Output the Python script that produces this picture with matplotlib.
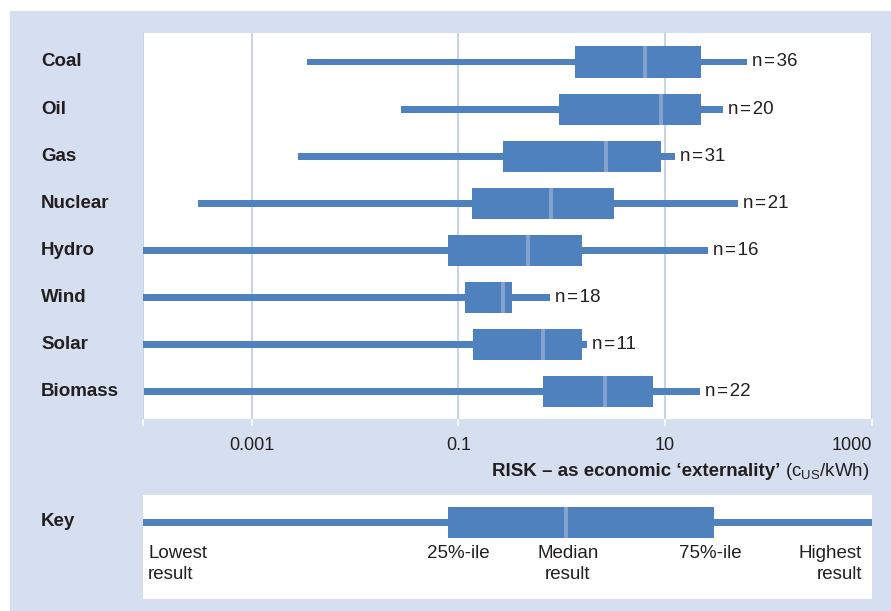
import numpy as np
import matplotlib.pyplot as plt
from matplotlib.patches import Rectangle
from matplotlib.ticker import NullLocator
from matplotlib.transforms import blended_transform_factory

plt.rcParams['font.family'] = ['Liberation Sans', 'DejaVu Sans']

# data (cUS/kWh, log scale)
sources = ['Coal', 'Oil', 'Gas', 'Nuclear', 'Hydro', 'Wind', 'Solar', 'Biomass']
lowest = [0.00343, 0.0279, 0.00281, 0.000302, 8e-5, 8e-5, 8e-5, 9.1e-5]
q1 = [1.35, 0.942, 0.270, 0.1355, 0.0794, 0.116, 0.139, 0.659]
median = [6.33, 9.14, 2.70, 0.789, 0.472, 0.270, 0.659, 2.62]
q3 = [22.1, 22.1, 9.14, 3.21, 1.57, 0.328, 1.57, 7.65]
highest = [61.7, 36.2, 12.5, 50.5, 26.1, 0.766, 1.77, 21.8]
counts = [36, 20, 31, 21, 16, 18, 11, 22]

tick_vals = [1e-3, 1e-1, 10, 1000]
tick_labels = ['0.001', '0.1', '10', '1000']

# key: lowest, 25%, median, 75%, highest
key_vals = [1e-5, 0.0794, 1.10, 29.8, 1e4]
key_texts = ['Lowest\nresult', '25%-ile', 'Median\nresult', '75%-ile', 'Highest\nresult']

panel = '#d5dfef'
blue = '#4e81bd'
med_col = '#83a2cf'
grid_col = '#b6c6e0'
txt = '#231f20'
FS = 13.5

XMIN, XMAX = 10 ** -4.055, 1000
W, H = 891, 611

fig = plt.figure(figsize=(W / 100, H / 100), dpi=100)
fig.patches.append(Rectangle((10 / W, 0), 1, 600 / H, transform=fig.transFigure,
                             color=panel, zorder=-10))

# main chart
ax = fig.add_axes([142.7 / W, 1 - 419 / H, 729 / W, 386 / H])
ax.set_xscale('log')
ax.set_xlim(XMIN, XMAX)
ax.set_ylim(7.573, -0.615)
y = np.arange(len(sources))

ax.barh(y, np.array(highest) - np.array(lowest), left=lowest, height=0.148,
        color=blue, zorder=2)
ax.barh(y, np.array(q3) - np.array(q1), left=q1, height=0.658, color=blue, zorder=3)
ax.vlines(median, y - 0.329, y + 0.329, color=med_col, lw=2.9, zorder=4)

for i, c in enumerate(counts):
    ax.annotate(f'n\u200a=\u200a{c}', (highest[i], i), xytext=(3.6, 0),
                textcoords='offset points', va='center', ha='left', fontsize=FS,
                color=txt)

trans = blended_transform_factory(ax.transAxes, ax.transData)
for i, name in enumerate(sources):
    ax.text(-0.1395, i, name, transform=trans, ha='left', va='center',
            fontsize=FS, fontweight='bold', color=txt)

ax.set_xticks([XMIN] + tick_vals, [''] + tick_labels)
ax.xaxis.set_minor_locator(NullLocator())
ax.set_yticks([])
ax.tick_params(axis='x', length=5, width=1.2, color='white', pad=8,
               labelsize=13, labelcolor=txt)
# last label sits inside the panel edge
ax.get_xticklabels()[-1].set_horizontalalignment('right')
ax.grid(axis='x', color=grid_col, lw=1.1)
ax.set_axisbelow(True)
for s in ax.spines.values():
    s.set_visible(False)

# axis title: bold part + units
base_y = 1 - 476 / H
t2 = fig.text(869 / W, base_y, r'(c$_\mathregular{US}$/kWh)', ha='right', va='baseline',
              fontsize=FS, color=txt)
fig.canvas.draw()
bb = t2.get_window_extent()
fig.text((bb.x0 - 4) / W, base_y, 'RISK \u2013 as economic \u2018externality\u2019',
         ha='right', va='baseline', fontsize=FS, fontweight='bold', color=txt)

# key
kax = fig.add_axes([142.7 / W, 1 - 599 / H, 729 / W, 104 / H])
kax.set_xscale('log')
kax.set_xlim(XMIN, XMAX)
kax.set_ylim(0, 1)
ky = 0.74
kax.barh(ky, key_vals[4] - key_vals[0], left=key_vals[0], height=0.067, color=blue)
kax.barh(ky, key_vals[3] - key_vals[1], left=key_vals[1], height=0.298, color=blue)
kax.vlines(key_vals[2], ky - 0.149, ky + 0.149, color=med_col, lw=2.9)
kax.set_xticks([])
kax.xaxis.set_minor_locator(NullLocator())
kax.set_yticks([])
for s in kax.spines.values():
    s.set_visible(False)

label_pos = [(0.0073, 'left'), (0.4325, 'center'), (0.5834, 'center'),
             (0.7782, 'center'), (0.9866, 'right')]
for (xp, ha), t in zip(label_pos, key_texts):
    kax.text(xp, 0.515, t, transform=kax.transAxes, ha=ha, va='top', multialignment=ha,
             fontsize=FS, color=txt, linespacing=1.3)

fig.text(41 / W, 1 - 522 / H, 'Key', ha='left', va='center', fontsize=FS,
         fontweight='bold', color=txt)

fig.savefig('out.png', dpi=100)
